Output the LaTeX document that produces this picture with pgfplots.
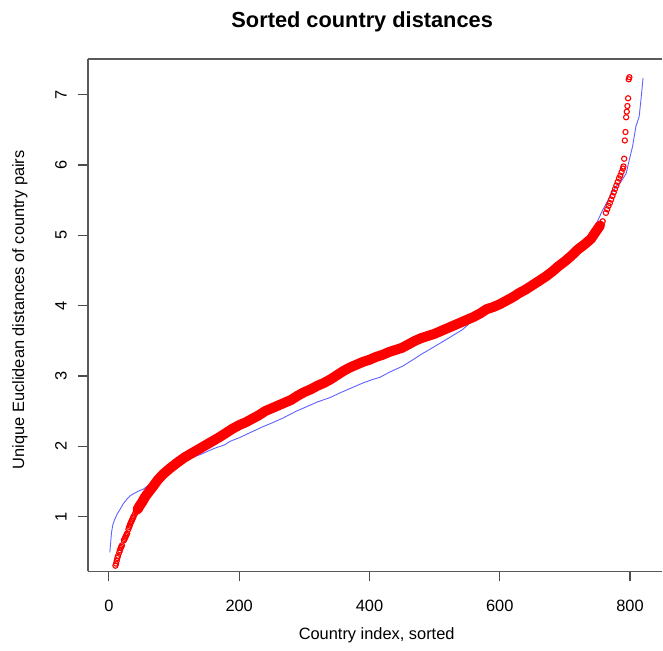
\documentclass[border=0pt]{standalone}
\usepackage{pgfplots}
\pgfplotsset{compat=1.18}
\usepackage{pgfplotstable}
\usepackage{fontspec}
\setmainfont{Liberation Sans}
\definecolor{bline}{rgb}{0.38,0.38,1}
\definecolor{axgray}{gray}{0.35}

\pgfplotstableread{
x y
10 0.30
11 0.33
12 0.37
13 0.41
14 0.44
16 0.49
17 0.52
18 0.55
19 0.57
20 0.59
23 0.66
24 0.68
25 0.70
26 0.72
27 0.74
28 0.76
30 0.82
31 0.85
32 0.87
33 0.90
34 0.92
35 0.94
36 0.96
37 0.98
38 1.00
40 1.04
42 1.07
44 1.10
47 1.15
50 1.19
52 1.22
55 1.27
58 1.31
63 1.37
68 1.43
75 1.52
83 1.60
93 1.68
104 1.76
116 1.84
129 1.91
142 1.98
155 2.05
168 2.12
180 2.19
190 2.25
200 2.30
210 2.34
220 2.39
230 2.44
240 2.50
250 2.54
260 2.58
270 2.62
280 2.66
290 2.72
300 2.77
310 2.81
320 2.86
330 2.90
340 2.95
350 3.01
360 3.07
370 3.12
380 3.16
390 3.20
400 3.23
410 3.27
420 3.30
430 3.34
440 3.37
450 3.40
460 3.45
470 3.50
480 3.54
490 3.57
500 3.60
510 3.64
520 3.68
530 3.72
540 3.76
550 3.80
560 3.84
570 3.89
580 3.95
590 3.98
600 4.02
610 4.07
620 4.12
630 4.18
640 4.23
650 4.29
660 4.35
670 4.41
680 4.48
690 4.56
700 4.63
710 4.71
720 4.80
730 4.87
740 4.95
748 5.06
754 5.14
758 5.20
763 5.32
765 5.37
767 5.42
769 5.46
771 5.51
773 5.56
775 5.61
777 5.66
779 5.71
781 5.76
783 5.81
785 5.85
787 5.90
789 5.95
790 5.98
791 6.09
792 6.35
793 6.47
794 6.68
795 6.76
796 6.84
797 6.95
798 7.22
799 7.25
}\redtab

\pgfplotstableread{
x y
1.5 0.49
4 0.77
6 0.88
9 0.96
13 1.04
17 1.10
22 1.18
27 1.24
32 1.29
37 1.32
45 1.36
53 1.39
60 1.44
68 1.50
78 1.59
88 1.67
100 1.73
114 1.79
127 1.84
140 1.88
152 1.93
165 1.98
178 2.02
186 2.07
200 2.12
216 2.19
237 2.28
250 2.33
267 2.40
288 2.50
303 2.56
320 2.63
339 2.69
355 2.76
370 2.82
390 2.90
405 2.95
416 2.98
430 3.05
451 3.14
465 3.22
480 3.31
502 3.43
520 3.53
543 3.66
555 3.76
564 3.85
580 3.92
594 3.97
610 4.05
625 4.13
640 4.20
656 4.29
670 4.38
682 4.47
695 4.56
707 4.67
720 4.80
733 4.93
743 5.08
750 5.20
758 5.36
765 5.48
773 5.62
779 5.70
786 5.76
794 5.88
799 6.08
804 6.27
809 6.55
814 6.69
817 6.95
820 7.24
}\bluetab

\begin{document}
\begin{tikzpicture}
\path (-44pt,-39.5pt) rectangle (287.5pt,286pt);
\begin{axis}[
  at={(0pt,0pt)}, anchor=south west,
  scale only axis, width=287.5pt, height=256.5pt,
  xmin=-32.2, xmax=849.7, ymin=0.218, ymax=7.51,
  axis x line*=box, axis y line*=left,
  xtick={0,200,400,600,800}, ytick={1,2,3,4,5,6,7},
  tick align=outside, xtick pos=bottom, ytick pos=left,
  major tick length=5pt,
  axis line style={axgray, line width=0.6pt, -},
  tick style={black!70, line width=0.6pt},
  /pgf/number format/assume math mode=true,
  ticklabel style={font=\fontsize{8.2}{10}\selectfont},
  xticklabel style={anchor=center, yshift=-12pt},
  yticklabel style={anchor=center, xshift=-8.5pt, rotate=90},
]
\addplot[bline, line width=0.45pt] table {\bluetab};
\addplot[red, line width=5pt, line cap=round, line join=round, restrict x to domain=44:756] table {\redtab};
\addplot[only marks, mark=o, red, mark size=1.3pt, mark options={line width=0.55pt}] table {\redtab};
\end{axis}
\node[font=\bfseries\fontsize{10.9}{13}\selectfont] at (137.25pt,275pt) {Sorted country distances};
\node[font=\fontsize{8.2}{10}\selectfont] at (144.5pt,-32pt) {Country index, sorted};
\node[rotate=90, font=\fontsize{8.2}{10}\selectfont] at (-34pt,131pt) {Unique Euclidean distances of country pairs};
\end{tikzpicture}
\end{document}
